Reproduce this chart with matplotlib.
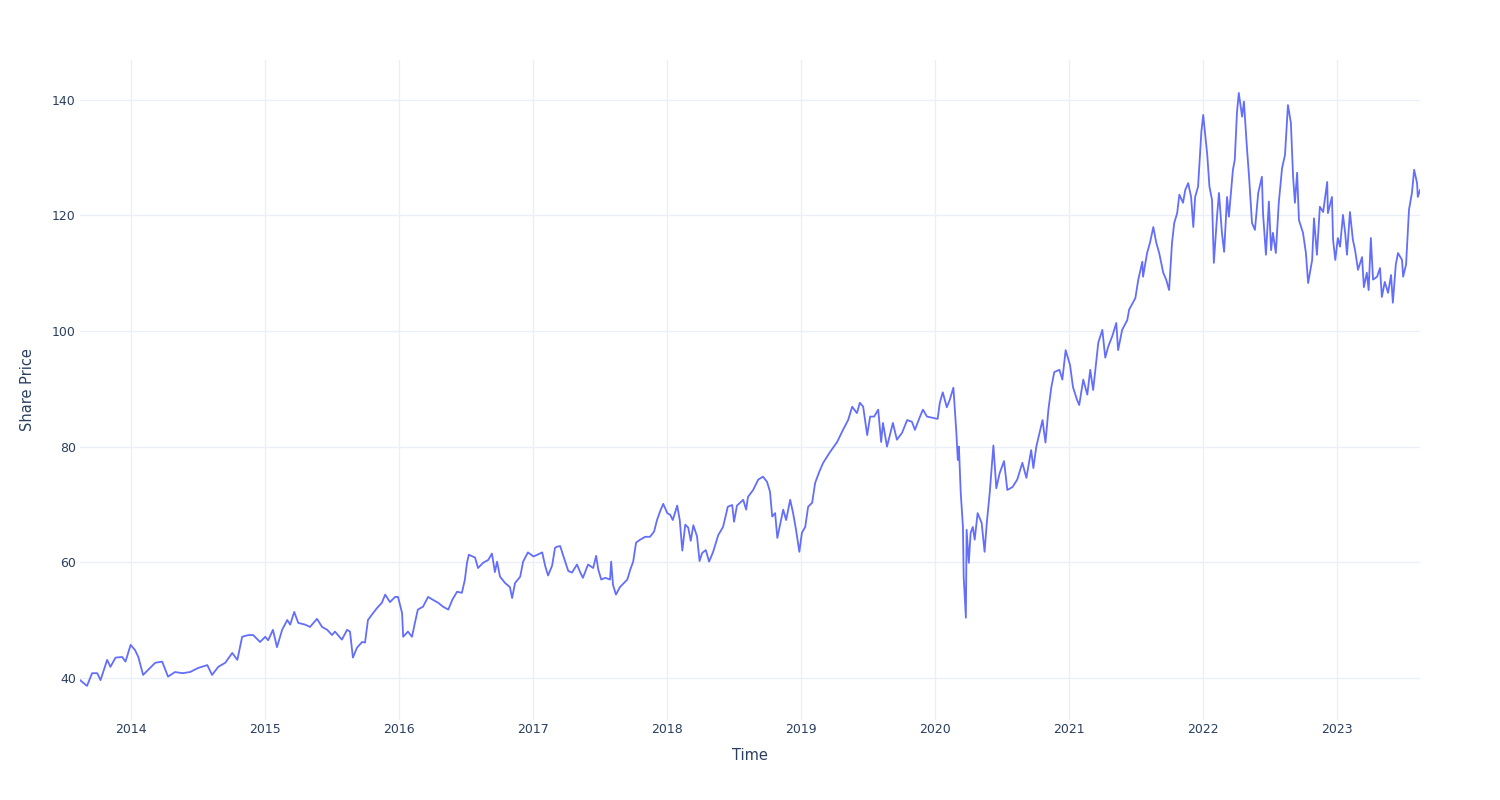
import matplotlib
matplotlib.use("Agg")
import matplotlib.pyplot as plt
import matplotlib.dates as mdates
import pandas as pd

dates = [
    "2013-08-14", "2013-09-02", "2013-09-16", "2013-09-30", "2013-10-09", "2013-10-27",
    "2013-11-05", "2013-11-19", "2013-12-07", "2013-12-16", "2013-12-30",
    "2014-01-11", "2014-01-20", "2014-02-02", "2014-02-16", "2014-03-07", "2014-03-26",
    "2014-04-11", "2014-04-30", "2014-05-20", "2014-06-10", "2014-07-02", "2014-07-27",
    "2014-08-09", "2014-08-26", "2014-09-14", "2014-10-03", "2014-10-17", "2014-10-30",
    "2014-11-16", "2014-11-29", "2014-12-18",
    "2015-01-01", "2015-01-09", "2015-01-22", "2015-02-02", "2015-02-16", "2015-03-02",
    "2015-03-10", "2015-03-21", "2015-04-01", "2015-04-20", "2015-05-03", "2015-05-22",
    "2015-06-05", "2015-06-19", "2015-07-02", "2015-07-10", "2015-07-29", "2015-08-12",
    "2015-08-20", "2015-08-28", "2015-09-08", "2015-09-22", "2015-09-30", "2015-10-08",
    "2015-10-22", "2015-11-02", "2015-11-15", "2015-11-24", "2015-12-07", "2015-12-21",
    "2015-12-29",
    "2016-01-09", "2016-01-12", "2016-01-25", "2016-02-05", "2016-02-13", "2016-02-21",
    "2016-03-06", "2016-03-20", "2016-04-02", "2016-04-16", "2016-04-30", "2016-05-14",
    "2016-05-25", "2016-06-07", "2016-06-20", "2016-06-28", "2016-07-04", "2016-07-09",
    "2016-07-26", "2016-08-03", "2016-08-17", "2016-08-31", "2016-09-10", "2016-09-18",
    "2016-09-24", "2016-10-02", "2016-10-16", "2016-10-29", "2016-11-04", "2016-11-12",
    "2016-11-26", "2016-12-04", "2016-12-17",
    "2017-01-01", "2017-01-12", "2017-01-25", "2017-02-02", "2017-02-10", "2017-02-21",
    "2017-03-01", "2017-03-07", "2017-03-15", "2017-03-23", "2017-04-06", "2017-04-16",
    "2017-04-30", "2017-05-09", "2017-05-16", "2017-05-30", "2017-06-13", "2017-06-21",
    "2017-06-27", "2017-07-05", "2017-07-16", "2017-07-29", "2017-08-01", "2017-08-06",
    "2017-08-14", "2017-08-25", "2017-09-14", "2017-09-22", "2017-09-30", "2017-10-08",
    "2017-10-19", "2017-11-02", "2017-11-15", "2017-11-26", "2017-12-04", "2017-12-13",
    "2017-12-21",
    "2018-01-01", "2018-01-09", "2018-01-16", "2018-01-28", "2018-02-04", "2018-02-11",
    "2018-02-19", "2018-02-27", "2018-03-06", "2018-03-13", "2018-03-23", "2018-03-30",
    "2018-04-06", "2018-04-16", "2018-04-25", "2018-05-06", "2018-05-20", "2018-06-02",
    "2018-06-15", "2018-06-27", "2018-07-02", "2018-07-10", "2018-07-27", "2018-08-04",
    "2018-08-09", "2018-08-23", "2018-09-06", "2018-09-19", "2018-09-30", "2018-10-08",
    "2018-10-14", "2018-10-22", "2018-10-28", "2018-11-07", "2018-11-13", "2018-11-21",
    "2018-12-02", "2018-12-10", "2018-12-18", "2018-12-27",
    "2019-01-03", "2019-01-12", "2019-01-20", "2019-01-31", "2019-02-08", "2019-02-19",
    "2019-03-02", "2019-03-21", "2019-04-09", "2019-04-25", "2019-05-09", "2019-05-20",
    "2019-06-02", "2019-06-10", "2019-06-19", "2019-06-30", "2019-07-08", "2019-07-19",
    "2019-07-30", "2019-08-07", "2019-08-12", "2019-08-23", "2019-09-08", "2019-09-19",
    "2019-10-03", "2019-10-17", "2019-10-30", "2019-11-07", "2019-11-21", "2019-11-29",
    "2019-12-10", "2019-12-24",
    "2020-01-08", "2020-01-14", "2020-01-22", "2020-02-02", "2020-02-10", "2020-02-20",
    "2020-02-28", "2020-03-03", "2020-03-06", "2020-03-11", "2020-03-17", "2020-03-19",
    "2020-03-25", "2020-03-27", "2020-04-02", "2020-04-07", "2020-04-13", "2020-04-18",
    "2020-04-26", "2020-05-07", "2020-05-15", "2020-05-21", "2020-05-29", "2020-06-08",
    "2020-06-16", "2020-06-25", "2020-07-07", "2020-07-16", "2020-07-30", "2020-08-12",
    "2020-08-26", "2020-09-06", "2020-09-19", "2020-09-25", "2020-10-03", "2020-10-12",
    "2020-10-20", "2020-10-28", "2020-11-05", "2020-11-13", "2020-11-21", "2020-12-05",
    "2020-12-13", "2020-12-22",
    "2021-01-03", "2021-01-11", "2021-01-22", "2021-01-28", "2021-02-08", "2021-02-19",
    "2021-02-27", "2021-03-07", "2021-03-15", "2021-03-21", "2021-04-01", "2021-04-09",
    "2021-04-17", "2021-04-28", "2021-05-09", "2021-05-14", "2021-05-25", "2021-06-08",
    "2021-06-13", "2021-06-30", "2021-07-08", "2021-07-19", "2021-07-21", "2021-08-01",
    "2021-08-09", "2021-08-18", "2021-08-26", "2021-09-03", "2021-09-14", "2021-09-22",
    "2021-09-30", "2021-10-08", "2021-10-14", "2021-10-22", "2021-10-28", "2021-11-07",
    "2021-11-13", "2021-11-21", "2021-11-29", "2021-12-05", "2021-12-10", "2021-12-18",
    "2021-12-27",
    "2022-01-01", "2022-01-12", "2022-01-18", "2022-01-25", "2022-01-30", "2022-02-08",
    "2022-02-13", "2022-02-21", "2022-02-27", "2022-03-07", "2022-03-12", "2022-03-23",
    "2022-03-28", "2022-04-03", "2022-04-08", "2022-04-17", "2022-04-22", "2022-04-30",
    "2022-05-06", "2022-05-14", "2022-05-22", "2022-05-31", "2022-06-10", "2022-06-13",
    "2022-06-21", "2022-06-29", "2022-07-05", "2022-07-10", "2022-07-18", "2022-07-26",
    "2022-08-04", "2022-08-12", "2022-08-20", "2022-08-28", "2022-09-03", "2022-09-08",
    "2022-09-14", "2022-09-19", "2022-09-30", "2022-10-08", "2022-10-14", "2022-10-19",
    "2022-10-25", "2022-10-30", "2022-11-07", "2022-11-15", "2022-11-24", "2022-12-05",
    "2022-12-07", "2022-12-18", "2022-12-21", "2022-12-27",
    "2023-01-03", "2023-01-09", "2023-01-17", "2023-01-23", "2023-01-28", "2023-02-05",
    "2023-02-13", "2023-02-19", "2023-02-27", "2023-03-10", "2023-03-15", "2023-03-23",
    "2023-03-28", "2023-04-03", "2023-04-09", "2023-04-20", "2023-04-28", "2023-05-03",
    "2023-05-11", "2023-05-20", "2023-05-28", "2023-06-02", "2023-06-10", "2023-06-16",
    "2023-06-27", "2023-06-30", "2023-07-08", "2023-07-16", "2023-07-24", "2023-07-30",
    "2023-08-07", "2023-08-09", "2023-08-15",
]
price = [
    39.6, 38.6, 40.8, 40.8, 39.6, 43.1,
    41.9, 43.5, 43.6, 42.8, 45.7,
    44.8, 43.6, 40.5, 41.4, 42.6, 42.8,
    40.2, 41.0, 40.8, 41.0, 41.7, 42.2,
    40.5, 41.9, 42.6, 44.3, 43.1, 47.1,
    47.4, 47.4, 46.2,
    47.1, 46.5, 48.3, 45.3, 48.3, 50.0,
    49.2, 51.4, 49.5, 49.2, 48.8, 50.2,
    48.8, 48.3, 47.4, 48.0, 46.6, 48.3,
    48.0, 43.5, 45.2, 46.2, 46.1, 50.0,
    51.2, 52.1, 53.0, 54.4, 53.1, 54.0,
    54.0,
    51.2, 47.1, 48.0, 47.1, 49.5, 51.8,
    52.3, 54.0, 53.5, 53.0, 52.3, 51.8,
    53.5, 54.9, 54.7, 56.9, 59.9, 61.3,
    60.8, 59.0, 59.9, 60.4, 61.5, 58.3,
    60.1, 57.5, 56.4, 55.7, 53.8, 56.4,
    57.5, 60.1, 61.7,
    61.0, 61.3, 61.7, 59.4, 57.7, 59.4,
    62.5, 62.7, 62.8, 61.2, 58.5, 58.2,
    59.6, 58.2, 57.3, 59.6, 59.0, 61.1,
    58.7, 57.0, 57.3, 57.0, 60.1, 56.1,
    54.4, 55.7, 57.0, 58.7, 60.1, 63.4,
    63.9, 64.4, 64.4, 65.3, 67.3, 68.9,
    70.1,
    68.5, 68.2, 67.3, 69.8, 67.3, 62.0,
    66.5, 66.0, 63.7, 66.4, 64.5, 60.2,
    61.6, 62.1, 60.1, 61.8, 64.7, 66.1,
    69.6, 69.9, 67.0, 69.8, 70.8, 69.1,
    71.3, 72.5, 74.3, 74.8, 73.9, 72.2,
    67.9, 68.5, 64.2, 67.3, 69.1, 67.3,
    70.8, 68.5, 65.6, 61.8,
    65.1, 66.1, 69.6, 70.3, 73.7, 75.6,
    77.2, 79.1, 80.8, 82.9, 84.6, 86.9,
    85.8, 87.6, 86.9, 82.0, 85.2, 85.2,
    86.4, 80.8, 84.1, 80.0, 84.1, 81.2,
    82.4, 84.6, 84.3, 82.9, 85.2, 86.4,
    85.2, 85.0,
    84.8, 87.6, 89.4, 86.8, 88.1, 90.2,
    82.5, 77.7, 80.0, 72.0, 66.1, 57.5,
    50.4, 65.6, 59.9, 65.1, 66.1, 63.9,
    68.5, 66.8, 61.8, 66.8, 72.0, 80.2,
    72.8, 75.4, 77.5, 72.5, 73.0, 74.3,
    77.2, 74.6, 79.4, 76.3, 80.0, 82.4,
    84.6, 80.7, 86.4, 90.3, 92.9, 93.3,
    91.6, 96.7,
    94.1, 90.3, 88.1, 87.2, 91.6, 89.0,
    93.3, 89.8, 94.5, 98.0, 100.2, 95.4,
    97.3, 99.1, 101.4, 96.7, 100.2, 101.9,
    103.7, 105.7, 108.9, 112.0, 109.4, 113.5,
    115.3, 118.0, 115.3, 113.5, 110.1, 108.9,
    107.1, 115.3, 118.7, 120.4, 123.6, 122.2,
    124.4, 125.6, 123.2, 118.0, 123.2, 125.0,
    134.5,
    137.4, 130.5, 125.0, 122.7, 111.8, 120.1,
    123.9, 117.0, 113.7, 123.2, 119.8, 127.9,
    129.6, 137.8, 141.2, 137.1, 139.7, 131.9,
    126.7, 118.7, 117.5, 123.9, 126.7, 120.4,
    113.2, 122.4, 114.0, 117.0, 113.5, 122.2,
    128.2, 130.5, 139.1, 136.0, 126.7, 122.2,
    127.4, 119.2, 117.0, 113.5, 108.3, 110.1,
    112.3, 119.5, 113.2, 121.5, 120.6, 125.8,
    120.4, 123.2, 115.8, 112.3,
    116.1, 114.6, 120.1, 117.0, 113.2, 120.6,
    115.8, 114.0, 110.6, 112.8, 107.6, 110.1,
    107.1, 116.1, 108.9, 109.4, 110.9, 105.9,
    108.5, 106.6, 109.7, 104.9, 111.5, 113.5,
    112.3, 109.4, 111.5, 121.0, 123.9, 127.9,
    125.6, 123.2, 124.4,
]

x = pd.to_datetime(dates)

text_col = "#2a3f5f"
grid_col = "#EBF0F8"

fig = plt.figure(figsize=(15, 8), dpi=100)
ax = fig.add_axes([80 / 1500, 80 / 800, 1340 / 1500, 660 / 800])

ax.plot(x, price, color="#636EFA", linewidth=1.3)

ax.set_xlim(x[0], x[-1])
ax.set_ylim(32.7, 146.9)

ax.xaxis.set_major_locator(mdates.YearLocator())
ax.xaxis.set_major_formatter(mdates.DateFormatter("%Y"))
ax.set_yticks([40, 60, 80, 100, 120, 140])

ax.grid(True, color=grid_col, linewidth=1)
ax.set_axisbelow(True)
for s in ax.spines.values():
    s.set_visible(False)
ax.tick_params(length=0, labelsize=9, labelcolor=text_col)
ax.tick_params(axis="x", pad=2)
ax.tick_params(axis="y", pad=3)

ax.set_xlabel("Time", fontsize=10.5, color=text_col, labelpad=9)
ax.set_ylabel("Share Price", fontsize=10.5, color=text_col, labelpad=12)

fig.savefig("out.png", dpi=100)
